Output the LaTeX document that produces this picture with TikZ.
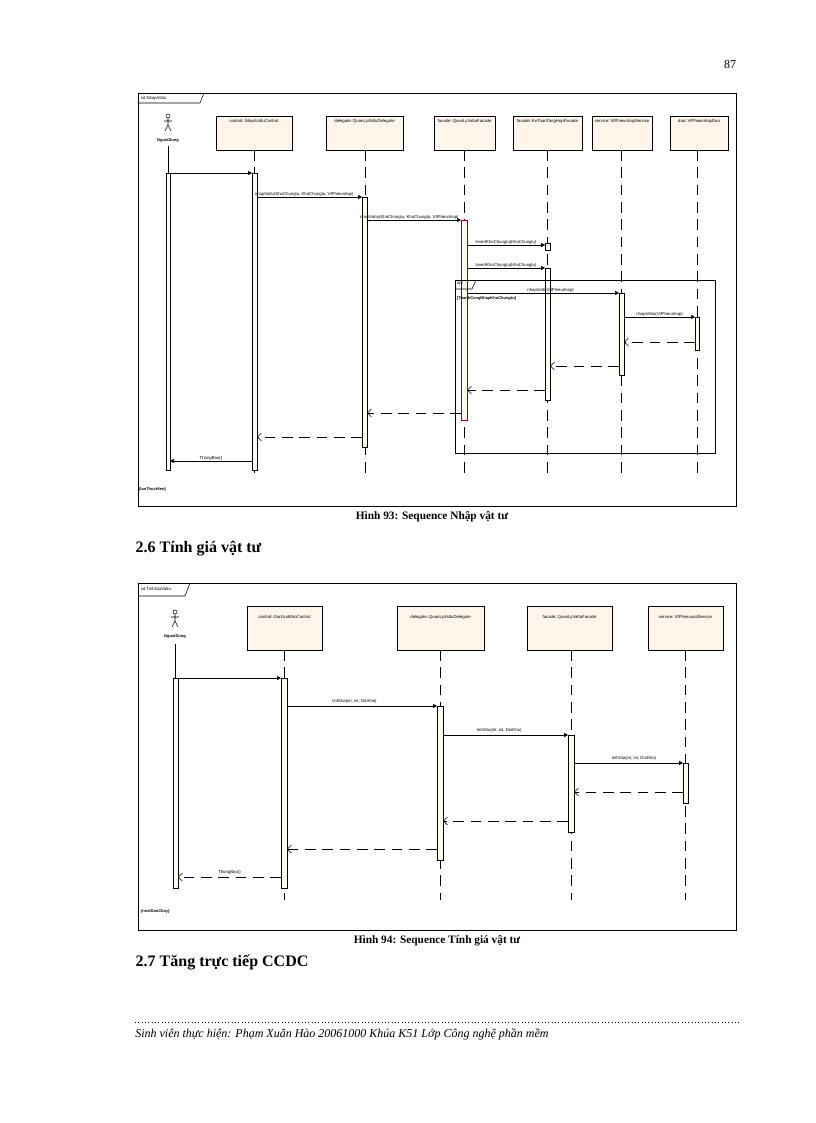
\documentclass[tikz,border=0pt]{standalone}
\usepackage{fontspec}
\setmainfont{Liberation Serif}
\newfontfamily\sm{Liberation Sans}
\usetikzlibrary{arrows.meta}
\begin{document}
\begin{tikzpicture}[x=0.75pt,y=-0.75pt,
 lbox/.style={draw,fill=orange!8,line width=0.5pt},
 act/.style={draw,fill=yellow!8,line width=0.5pt},
 life/.style={dash pattern=on 8pt off 5pt,line width=0.5pt},
 msg/.style={-{Triangle[length=3pt,width=3pt]},line width=0.4pt},
 ret/.style={-{Straight Barb[length=3pt]},dash pattern=on 8pt off 5pt,line width=0.4pt},
 tl/.style={font=\sm\fontsize{3.2}{4}\selectfont,inner sep=0.5pt},
 bl/.style={font=\sm\bfseries\fontsize{3}{4}\selectfont,inner sep=0.5pt}]
\useasboundingbox (0,0) rectangle (816,1123);
\node[font=\fontsize{9}{11}\selectfont] (pn) at (730,65) {87};
% ===== Diagram 1
\draw[line width=0.5pt] (138,93) rectangle (736,506);
\draw[line width=0.4pt] (138,103) -- (200,103) -- (204,93);
\node[tl,anchor=west] (f1) at (140,98) {sd NhapVattu};
% actor
\draw (168,116) circle (2);
\draw (168,118)--(168,125) (164,121)--(172,121) (168,125)--(165,131) (168,125)--(171,131);
\node[bl] (a1) at (168,140) {NguoiDung};
\foreach \x/\a/\b/\t in {254/216/292/control::NhapVattuControl,365/326/403/delegate::QuanLyVattuDelegate,464/434/495/facade::QuanLyVattuFacade,547/513/582/facade::KeToanTongHopFacade,621/592/652/service::VtPhieunhapService,697/670/728/dao::VtPhieunhapDao}{
 \draw[lbox] (\a,116) rectangle (\b,150);
 \node[tl,anchor=north] at ({(\a+\b)/2},118) {\t};
 \draw[life] (\x,150) -- (\x,478);}
\draw[line width=0.5pt] (168,146) -- (168,173);
\draw[act] (166,173) rectangle (170,470);
\draw[act] (252,173) rectangle (257,470);
\draw[act] (362,197) rectangle (367,447);
\draw[act,draw=purple!70!black] (461,220) rectangle (467,420);
\draw[act] (545,243) rectangle (550,250);
\draw[act] (545,268) rectangle (550,400);
\draw[act] (619,293) rectangle (624,375);
\draw[act] (695,317) rectangle (699,350);
\coordinate (m0a) at (170,173); \coordinate (m0b) at (252,173);
\draw[msg] (m0a)--(m0b);
\draw[msg] (257,197)--(362,197) node[tl,pos=0.45,above] {nhapVattu(KhoChungtu, KhoChungtu, VtPhieunhap)};
\draw[msg] (367,220)--(461,220) node[tl,pos=0.45,above] {nhapVattu(KhoChungtu, KhoChungtu, VtPhieunhap)};
\draw[msg] (467,245)--(545,245) node[tl,midway,above] {InsertKhoChungtu(KhoChungtu)};
\draw[msg] (467,268)--(545,268) node[tl,midway,above] {InsertKhoChungtu(KhoChungtu)};
\draw[msg] (467,293)--(619,293) node[tl,pos=0.55,above] {nhapVattu(VtPhieunhap)};
\draw[msg] (624,317)--(695,317) node[tl,midway,above] {nhapVattu(VtPhieunhap)};
\draw[ret] (695,342)--(624,342);
\draw[ret] (619,366)--(550,366);
\draw[ret] (545,390)--(467,390);
\draw[ret] (461,413)--(367,413);
\draw[ret] (362,437)--(257,437);
\draw[msg] (252,461)--(170,461) node[tl,midway,above] {ThongBao()};
\draw[line width=0.5pt] (455,280) rectangle (715,453);
\draw[line width=0.4pt] (455,289)--(472,289)--(476,280);
\node[tl,anchor=west] (opt) at (456,284) {opt};
\node[bl,anchor=west] (g1) at (456,298) {[ThanhCongNhapKhoChungtu]};
\node[bl,anchor=west] (e1) at (138,489) {\{lanThucHien\}};
\node[font=\bfseries\fontsize{8.5}{10}\selectfont] (c1) at (432,517) {Hình 93: Sequence Nhập vật tư};
\node[font=\bfseries\fontsize{12}{14}\selectfont,anchor=west] (h1) at (131,549) {2.6 Tính giá vật tư};
% ===== Diagram 2
\draw[line width=0.5pt] (138,583) rectangle (736,930);
\draw[line width=0.4pt] (138,596) -- (185,596) -- (190,583);
\node[tl,anchor=west] (f2) at (140,589) {sd TinhGiaVattu};
\draw (175,612) circle (2);
\draw (175,614)--(175,621) (171,617)--(179,617) (175,621)--(172,627) (175,621)--(178,627);
\node[bl] (a2) at (175,636) {NguoiDung};
\foreach \x/\a/\b/\t in {284/247/322/control::GiaXuatKhoControl,440/397/484/delegate::QuanLyVattuDelegate,571/527/612/facade::QuanLyVattuFacade,685/648/723/service::VtPhieuxuatService}{
 \draw[lbox] (\a,606) rectangle (\b,650);
 \node[tl,anchor=north] at ({(\a+\b)/2},614) {\t};
 \draw[life] (\x,650) -- (\x,900);}
\draw[line width=0.5pt] (175,644) -- (175,678);
\draw[act] (173,678) rectangle (178,888);
\draw[act] (281,678) rectangle (287,888);
\draw[act] (437,706) rectangle (443,860);
\draw[act] (568,735) rectangle (574,832);
\draw[act] (683,763) rectangle (688,803);
\draw[msg] (178,678)--(281,678);
\draw[msg] (287,706)--(437,706) node[tl,pos=0.45,above=1pt] {tinhGia(int, int, DmKho)};
\draw[msg] (443,735)--(568,735) node[tl,pos=0.45,above=1pt] {tinhGia(int, int, DmKho)};
\draw[msg] (574,763)--(683,763) node[tl,pos=0.55,above=1pt] {tinhGia(int, int, DmKho)};
\draw[ret] (683,792)--(574,792);
\draw[ret] (568,821)--(443,821);
\draw[ret] (437,849)--(287,849);
\draw[ret] (281,877)--(178,877) node[tl,midway,above=1pt] {ThongBao()};
\node[bl,anchor=west] (e2) at (140,911) {\{nextDanChay\}};
\node[font=\bfseries\fontsize{8.5}{10}\selectfont] (c2) at (437,941) {Hình 94: Sequence Tính giá vật tư};
\node[font=\bfseries\fontsize{12}{14}\selectfont,anchor=west] (h2) at (131,962) {2.7 Tăng trực tiếp CCDC};
% footer
\draw[dotted,line width=0.5pt] (135,1022)--(740,1022);
\node[font=\itshape\fontsize{9}{11}\selectfont,anchor=west,inner sep=0] (ft) at (135,1034) {Sinh viên thực hiện: Phạm Xuân Hào 20061000 Khúa K51 Lớp Công nghệ phần mềm};
\end{tikzpicture}
\end{document}
